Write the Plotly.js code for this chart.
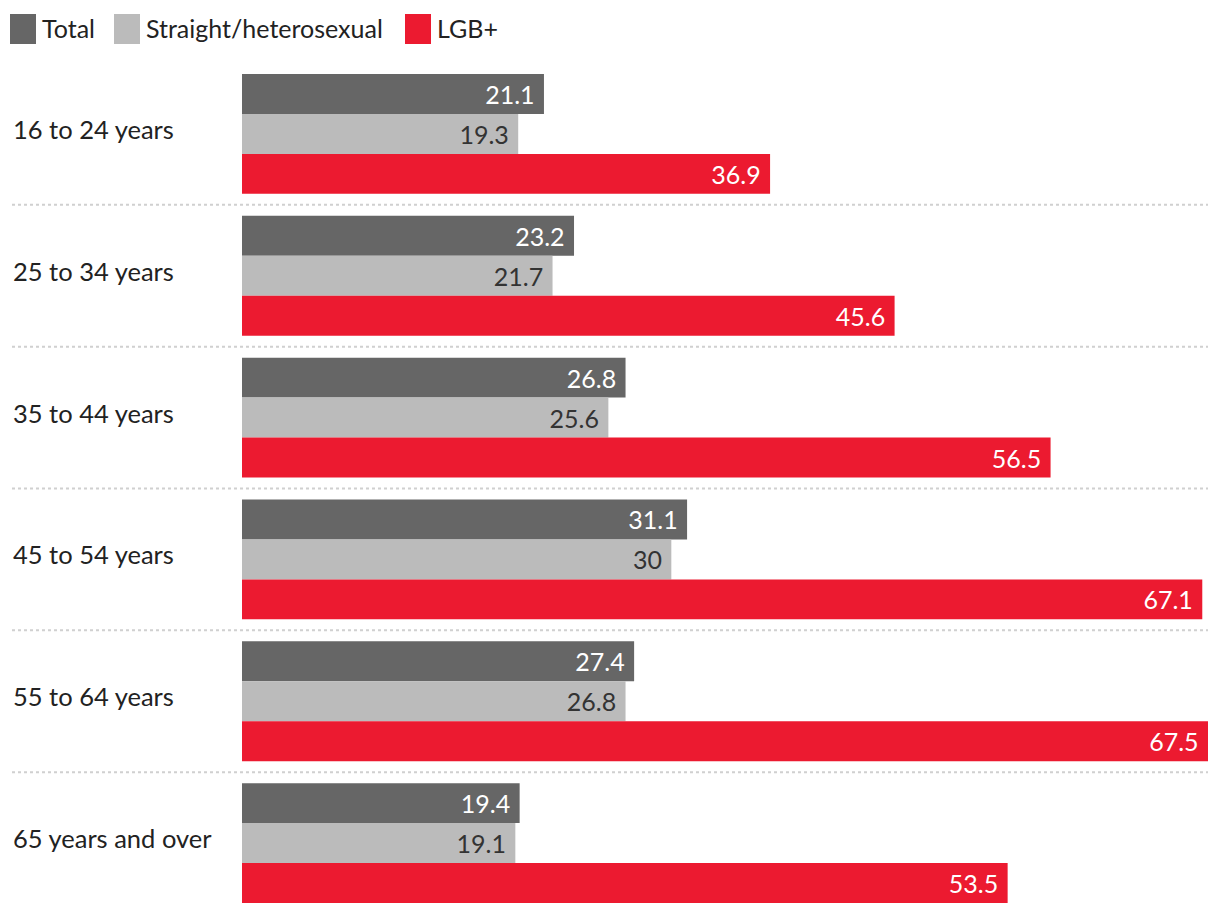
<!DOCTYPE html>
<html><head><meta charset="utf-8">
<script src="https://cdn.plot.ly/plotly-3.0.1.min.js"></script>
<style>html,body{margin:0;padding:0;background:#fff}</style>
</head><body>
<div id="chart" style="width:1220px;height:914px"></div>
<script>
const categories = ["16 to 24 years","25 to 34 years","35 to 44 years","45 to 54 years","55 to 64 years","65 years and over"];
const seriesNames = ["Total","Straight/heterosexual","LGB+"];
const totalValues = [21.1, 23.2, 26.8, 31.1, 27.4, 19.4];
const straightValues = [19.3, 21.7, 25.6, 30, 26.8, 19.1];
const lgbValues = [36.9, 45.6, 56.5, 67.1, 67.5, 53.5];

const colors = ["#666666", "#bbbbbb", "#ec1a30"];
const textColors = ["#ffffff", "#333333", "#ffffff"];
const FONT = "Lato, 'Open Sans', sans-serif";

const W = 1220, H = 914;
const M = {l: 242, r: 12, t: 63, b: 0};
const pw = W - M.l - M.r, ph = H - M.t - M.b;
const px2x = p => (p - M.l) / pw;
const py2y = p => 1 - (p - M.t) / ph;

const all = [totalValues, straightValues, lgbValues];
const traces = all.map((vals, i) => ({
  type: "bar", orientation: "h",
  name: seriesNames[i],
  y: categories, x: vals,
  marker: {color: colors[i], line: {width: 0}},
  text: vals.map(v => String(v) + "\u00a0"),
  texttemplate: "%{text}",
  textposition: "inside", insidetextanchor: "end",
  constraintext: "none",
  textfont: {family: FONT, size: 25, color: textColors[i]},
  hoverinfo: "skip", showlegend: false
}));

const shapes = [];
const annotations = [];
// separators between groups
for (let i = 0; i < categories.length - 1; i++) {
  shapes.push({type: "line", xref: "paper", yref: "y",
    x0: px2x(12), x1: 1, y0: i + 0.5, y1: i + 0.5,
    line: {color: "#d0d0d0", width: 2, dash: "dot"}});
}
// category labels
categories.forEach(c => annotations.push({
  xref: "paper", yref: "y", x: px2x(11), y: c, xanchor: "left", yanchor: "middle",
  yshift: 5,
  text: c, showarrow: false, font: {family: FONT, size: 25.5, color: "#222222"}
}));
// legend
const legendX = [10, 114, 405];
seriesNames.forEach((n, i) => {
  shapes.push({type: "rect", xref: "paper", yref: "paper",
    x0: px2x(legendX[i]), x1: px2x(legendX[i] + 26),
    y0: py2y(44), y1: py2y(14), fillcolor: colors[i], line: {width: 0}});
  annotations.push({xref: "paper", yref: "paper", x: px2x(legendX[i] + 30), y: py2y(28),
    xanchor: "left", yanchor: "middle", text: n, showarrow: false,
    font: {family: FONT, size: 25, color: "#222222"}});
});

const layout = {
  width: W, height: H,
  margin: M,
  paper_bgcolor: "#ffffff", plot_bgcolor: "#ffffff",
  barmode: "group", bargap: 0.155, bargroupgap: 0,
  xaxis: {range: [0, 67.5], visible: false, fixedrange: true},
  yaxis: {type: "category", autorange: "reversed", showticklabels: false,
          showgrid: false, zeroline: false, showline: false, ticks: "", fixedrange: true},
  shapes: shapes, annotations: annotations,
  font: {family: FONT},
  showlegend: false
};
Plotly.newPlot("chart", traces, layout, {displayModeBar: false, staticPlot: true});
</script>
</body></html>
